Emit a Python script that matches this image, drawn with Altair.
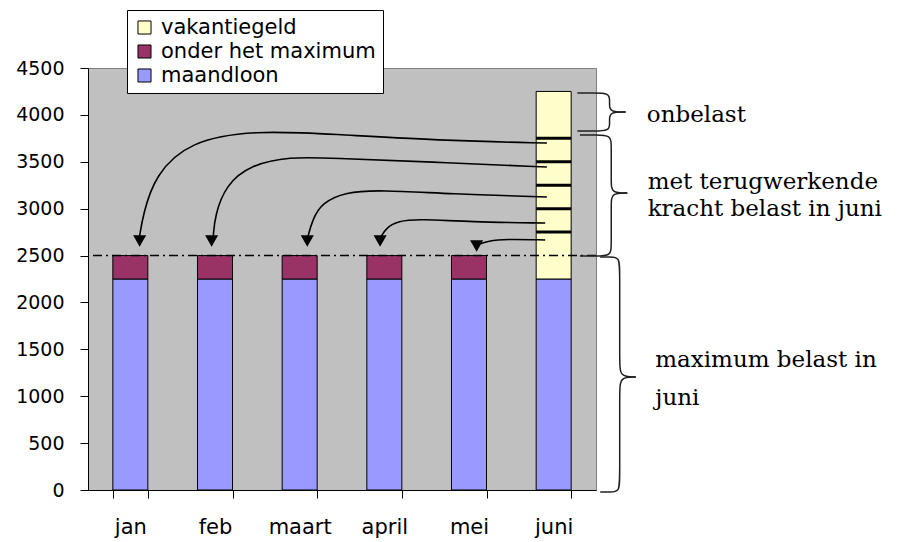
import altair as alt
import pandas as pd

# ---------------- data ----------------
months = ["jan", "feb", "maart", "april", "mei", "juni"]
maandloon = [2250, 2250, 2250, 2250, 2250, 2250]
onder_het_maximum = [250, 250, 250, 250, 250, 0]
vakantiegeld = [0, 0, 0, 0, 0, 2000]
juni_lines = [2750, 3000, 3250, 3500, 3750]
maximum = 2500

series_names = ["vakantiegeld", "onder het maximum", "maandloon"]
series_colors = ["#FFFFCC", "#993366", "#9999FF"]
y_ticks = [0, 500, 1000, 1500, 2000, 2500, 3000, 3500, 4000, 4500]

# annotation geometry in data units (x: month index, y: value)
arrow_jan_x = [4.92, 3.78, 2.36, 1.47, 0.70, 0.29, 0.15, 0.11]
arrow_jan_y = [3700, 3722, 3796, 3835, 3722, 3359, 2933, 2709]
arrow_feb_x = [4.92, 3.54, 2.36, 1.89, 1.41, 1.13, 1.00, 0.98]
arrow_feb_y = [3444, 3498, 3540, 3555, 3466, 3253, 2933, 2709]
arrow_maart_x = [4.92, 3.78, 2.95, 2.54, 2.26, 2.15, 2.10]
arrow_maart_y = [3125, 3157, 3199, 3178, 3061, 2879, 2709]
arrow_april_x = [4.90, 4.01, 3.42, 3.16, 3.02, 2.96]
arrow_april_y = [2847, 2858, 2890, 2869, 2794, 2698]
arrow_mei_x = [4.90, 4.43, 4.22, 4.13]
arrow_mei_y = [2666, 2677, 2655, 2623]

head_x = [0.11, 0.96, 2.09, 2.95, 4.09]
head_y = [2655, 2655, 2655, 2655, 2602]

# brace: x0, xm, xt, top, mid, bottom, corner
brace_params = [
    (5.28, 5.66, 5.85, 4234, 4031, 3828, 90),
    (5.31, 5.68, 5.87, 3786, 3167, 2495, 120),
    (5.55, 5.78, 5.97, 2485, 1205, -21, 170),
]

label_texts = ["onbelast", "met terugwerkende", "kracht belast in juni",
               "maximum belast in", "juni"]
label_x = [6.10, 6.11, 6.11, 6.20, 6.20]
label_y = [3924, 3210, 2922, 1312, 906]

# ---------------- tables ----------------
rows = []
for i, m in enumerate(months):
    for ordn, (name, vals) in enumerate([("maandloon", maandloon),
                                         ("onder het maximum", onder_het_maximum),
                                         ("vakantiegeld", vakantiegeld)]):
        if vals[i] > 0:
            rows.append({"maand": m, "reeks": name, "waarde": vals[i], "volgorde": ordn})
bar_df = pd.DataFrame(rows)

lines_df = pd.DataFrame({"maand": ["juni"] * len(juni_lines), "waarde": juni_lines})
rule_df = pd.DataFrame({"waarde": [maximum]})

arr_rows = []
for aid, (xs, ys) in enumerate([(arrow_jan_x, arrow_jan_y), (arrow_feb_x, arrow_feb_y),
                                (arrow_maart_x, arrow_maart_y), (arrow_april_x, arrow_april_y),
                                (arrow_mei_x, arrow_mei_y)]):
    for k, (xx, yy) in enumerate(zip(xs, ys)):
        arr_rows.append({"id": aid, "k": k, "xp": xx, "v": yy})
arrow_df = pd.DataFrame(arr_rows)

head_df = pd.DataFrame({"xp": head_x, "v": head_y})

br_rows = []
for bid, (x0, xm, xt, top, mid, bot, r) in enumerate(brace_params):
    upper = [(x0, top), ((x0 + xm) / 2, top), (xm, top), (xm, top - r),
             (xm, mid + r), (xm, mid), (xt, mid)]
    lower = [(xt, mid), (xm, mid), (xm, mid - r), (xm, bot + r),
             (xm, bot), ((x0 + xm) / 2, bot), (x0, bot)]
    for half, pts in enumerate([upper, lower]):
        for k, (xx, yy) in enumerate(pts):
            br_rows.append({"id": f"{bid}-{half}", "k": k, "xp": xx, "v": yy})
brace_df = pd.DataFrame(br_rows)

text_df = pd.DataFrame({"tekst": label_texts, "xp": label_x, "v": label_y})

# ---------------- scales / axes ----------------
yscale = alt.Scale(domain=[0, 4500], nice=False)
yaxis = alt.Axis(values=y_ticks, format="d", title=None, grid=False, tickSize=8, labelPadding=16,
                 domainColor="black", tickColor="black", labelColor="black",
                 labelFont="DejaVu Sans", labelFontSize=19)
xscale = alt.Scale(domain=months, paddingInner=0.5866, paddingOuter=0.2933)
xaxis = alt.Axis(title=None, labelAngle=0, tickBand="extent", tickSize=8, labelPadding=18,
                 domainColor="black", tickColor="black", labelColor="black",
                 labelFont="DejaVu Sans", labelFontSize=21)
xq = alt.Scale(domain=[-0.5, 5.5], nice=False, zero=False)

bars = alt.Chart(bar_df).mark_bar(stroke="black", strokeWidth=1).encode(
    x=alt.X("maand:N", sort=months, scale=xscale, axis=xaxis),
    y=alt.Y("waarde:Q", stack="zero", scale=yscale, axis=yaxis),
    color=alt.Color("reeks:N", scale=alt.Scale(domain=series_names, range=series_colors),
                    legend=alt.Legend(title=None, orient="none", legendX=39, legendY=-58,
                                      direction="vertical", fillColor="white",
                                      strokeColor="black", padding=7, symbolType="square",
                                      symbolSize=170, symbolStrokeColor="black",
                                      symbolStrokeWidth=1, symbolOpacity=1,
                                      labelFont="DejaVu Sans", labelFontSize=21,
                                      labelColor="black", labelOffset=6, rowPadding=2,
                                      labelLimit=400)),
    order=alt.Order("volgorde:Q"),
)

ticks = alt.Chart(lines_df).mark_tick(color="black", thickness=3, size=35, opacity=1).encode(
    x=alt.X("maand:N", sort=months, scale=xscale, axis=xaxis),
    y=alt.Y("waarde:Q", scale=yscale, axis=yaxis),
)

rule = alt.Chart(rule_df).mark_rule(color="black", strokeDash=[9, 4, 2, 4], strokeWidth=1.5).encode(
    y=alt.Y("waarde:Q", scale=yscale, axis=yaxis),
)

base = alt.layer(bars, ticks, rule)

arrows = alt.Chart(arrow_df).mark_line(interpolate="basis", color="black", strokeWidth=1.6).encode(
    x=alt.X("xp:Q", scale=xq, axis=None),
    y=alt.Y("v:Q", scale=yscale, axis=yaxis),
    detail="id:N",
    order="k:Q",
)
heads = alt.Chart(head_df).mark_point(shape="triangle-down", filled=True, color="black",
                                      size=170, opacity=1).encode(
    x=alt.X("xp:Q", scale=xq, axis=None),
    y=alt.Y("v:Q", scale=yscale, axis=yaxis),
)
braces = alt.Chart(brace_df).mark_line(interpolate="basis", color="#202020", strokeWidth=1.5).encode(
    x=alt.X("xp:Q", scale=xq, axis=None),
    y=alt.Y("v:Q", scale=yscale, axis=yaxis),
    detail="id:N",
    order="k:Q",
)
texts = alt.Chart(text_df).mark_text(align="left", baseline="alphabetic", font="DejaVu Serif",
                                     fontSize=23, color="black").encode(
    x=alt.X("xp:Q", scale=xq, axis=None),
    y=alt.Y("v:Q", scale=yscale, axis=yaxis),
    text="tekst:N",
)

overlay = alt.layer(arrows, heads, braces, texts)

chart = alt.layer(base, overlay).resolve_scale(x="independent").properties(
    width=508, height=422,
    padding={"left": 80, "top": 60, "right": 290, "bottom": 52},
    autosize=alt.AutoSizeParams(type="none"),
).configure_view(fill="#C0C0C0", stroke="#808080", strokeWidth=1)

chart.save("out.html", embed_options={"renderer": "svg", "actions": False})
